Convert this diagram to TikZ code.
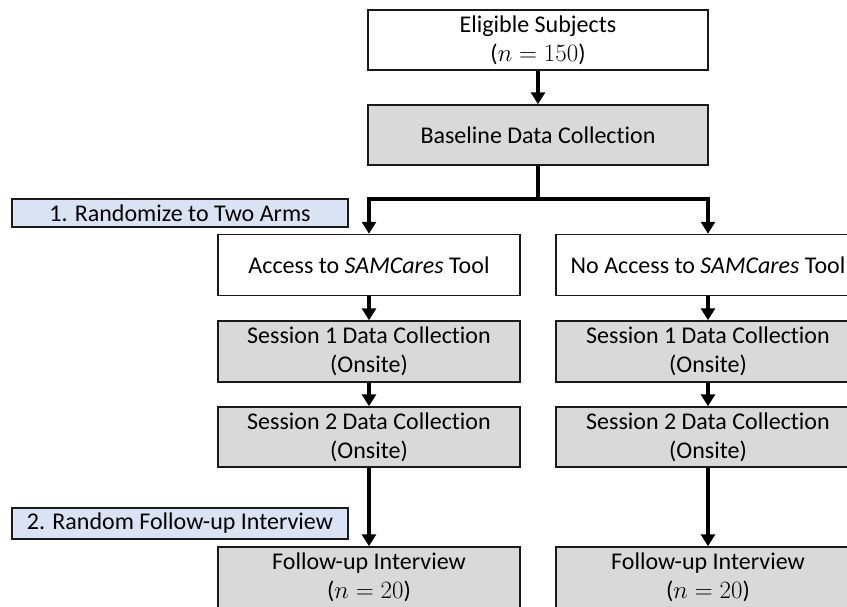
\documentclass[tikz,border=0pt]{standalone}
\usepackage{fontspec}
\setmainfont{Carlito}[RawFeature={-liga;-calt;-dlig;-clig}]
\usetikzlibrary{arrows.meta}
\definecolor{boxgray}{HTML}{D9D9D9}
\definecolor{lblue}{HTML}{DAE3F3}
\definecolor{edge}{HTML}{1A1A1A}
\begin{document}
\begin{tikzpicture}[x=1pt,y=-1pt,
  box/.style={draw=edge, line width=1.5pt, minimum width=302pt, minimum height=61pt,
    inner sep=0pt, align=center, font=\fontsize{24}{29}\selectfont},
  wbox/.style={box, fill=white},
  gbox/.style={box, fill=boxgray},
  lbl/.style={draw=edge, line width=1.5pt, fill=lblue, minimum width=336pt,
    minimum height=28pt, inner sep=0pt, font=\fontsize{24}{29}\selectfont},
  arr/.style={line width=3.5pt, draw=black, -{Triangle[width=14pt,length=12pt]}}]
\useasboundingbox (0,0) rectangle (847,606);
\clip (0,0) rectangle (847,606);

\node[wbox, minimum width=340pt, minimum height=60pt] (elig) at (538,40) {Eligible Subjects\\($n=150$)};
\node[gbox, minimum width=340pt, minimum height=60pt] (base) at (538,135) {Baseline Data Collection};

\node[lbl] (rand) at (180,213) {1. Randomize to Two Arms};

\node[wbox] (acc) at (369,265) {Access to \textit{SAMCares} Tool};
\node[wbox, minimum width=304pt] (noacc) at (708,265) {No Access to \textit{SAMCares} Tool};

\node[gbox] (s1l) at (369,351.5) {Session 1 Data Collection\\(Onsite)};
\node[gbox, minimum width=304pt] (s1r) at (708,351.5) {Session 1 Data Collection\\(Onsite)};
\node[gbox, minimum height=60pt] (s2l) at (369,437) {Session 2 Data Collection\\(Onsite)};
\node[gbox, minimum width=304pt, minimum height=60pt] (s2r) at (708,437) {Session 2 Data Collection\\(Onsite)};

\node[lbl, minimum height=31pt] (rfu) at (180,523.5) {2. Random Follow-up Interview};

\node[gbox] (ful) at (369,577.5) {Follow-up Interview\\($n=20$)};
\node[gbox, minimum width=304pt] (fur) at (708,577.5) {Follow-up Interview\\($n=20$)};

\coordinate (jc) at (538,199);

\draw[arr] (elig.south) -- (base.north);
\draw[arr] (base.south) -- (jc) -| (acc.north);
\draw[arr] (jc) -| (noacc.north);
\draw[arr] (acc.south) -- (s1l.north);
\draw[arr] (noacc.south) -- (s1r.north);
\draw[arr] (s1l.south) -- (s2l.north);
\draw[arr] (s1r.south) -- (s2r.north);
\draw[arr] (s2l.south) -- (ful.north);
\draw[arr] (s2r.south) -- (fur.north);
\end{tikzpicture}
\end{document}
